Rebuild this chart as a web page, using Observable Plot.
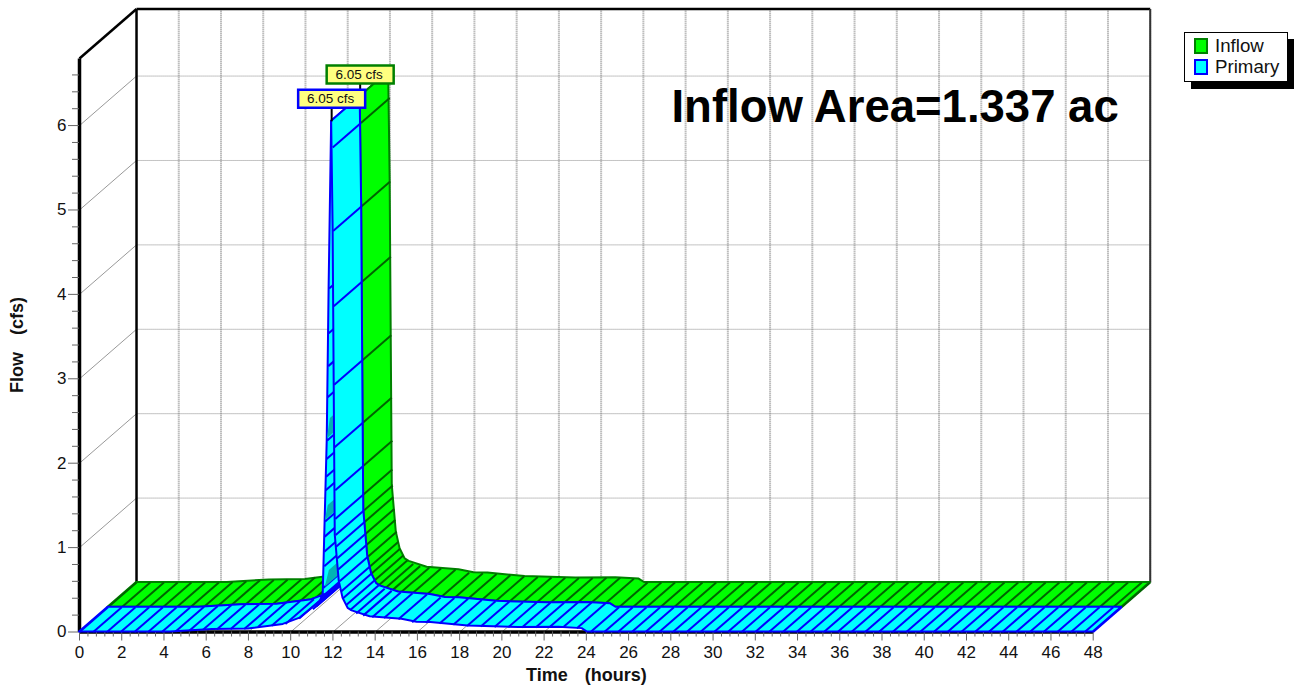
<!DOCTYPE html>
<html>
<head>
<meta charset="utf-8">
<script src="https://cdn.jsdelivr.net/npm/d3@7"></script>
<script src="https://cdn.jsdelivr.net/npm/@observablehq/plot@0.6"></script>
<style>
html,body{margin:0;padding:0;background:#fff;font-family:"Liberation Sans",Arial,sans-serif}
#wrap{position:relative;width:1294px;height:688px;overflow:hidden}
#legend{position:absolute;left:1184px;top:32px;width:102px;height:48px;background:#fff;border:1px solid #000;box-shadow:7px 7px 0 #000;font-size:18.7px;line-height:20px;color:#111}
#legend .row{position:absolute;left:9px;display:flex;align-items:center;gap:7px;height:20px}
#legend .sw{display:inline-block;width:10px;height:12px;border:2px solid}
.axis-title{word-spacing:3.5px}
</style>
</head>
<body>
<div id="wrap">
<div id="chart"></div>
<div id="legend">
<div class="row" style="top:3px"><span class="sw" style="background:#00ff00;border-color:#008000"></span>Inflow</div>
<div class="row" style="top:24px"><span class="sw" style="background:#00ffff;border-color:#0000ff"></span>Primary</div>
</div>
</div>
<script>
// ---- axis ticks (hours, cfs) ----
const xMajor = [0,2,4,6,8,10,12,14,16,18,20,22,24,26,28,30,32,34,36,38,40,42,44,46,48];
const xMinor = [0.4,0.8,1.2,1.6,2.4,2.8,3.2,3.6,4.4,4.8,5.2,5.6,6.4,6.8,7.2,7.6,8.4,8.8,9.2,9.6,10.4,10.8,11.2,11.6,12.4,12.8,13.2,13.6,14.4,14.8,15.2,15.6,16.4,16.8,17.2,17.6,18.4,18.8,19.2,19.6,20.4,20.8,21.2,21.6,22.4,22.8,23.2,23.6,24.4,24.8,25.2,25.6,26.4,26.8,27.2,27.6,28.4,28.8,29.2,29.6,30.4,30.8,31.2,31.6,32.4,32.8,33.2,33.6,34.4,34.8,35.2,35.6,36.4,36.8,37.2,37.6,38.4,38.8,39.2,39.6,40.4,40.8,41.2,41.6,42.4,42.8,43.2,43.6,44.4,44.8,45.2,45.6,46.4,46.8,47.2,47.6];
const yMajor = [0,1,2,3,4,5,6];
const yMinor = [0.2,0.4,0.6,0.8,1.2,1.4,1.6,1.8,2.2,2.4,2.6,2.8,3.2,3.4,3.6,3.8,4.2,4.4,4.6,4.8,5.2,5.4,5.6,5.8,6.2,6.4,6.6];

// ---- hydrograph (Inflow and Primary coincide) ----
const riseT = [0,4.3,6.3,8,9.65,10.45,11.4,11.54,11.63,11.73,11.82,11.94];
const riseQ = [0,0,0.03,0.035,0.09,0.165,0.36,0.45,1.31,2.27,4.09,6.05];
const fallT = [11.94,12.01,12.06,12.11,12.3,12.48,12.72,12.91,13.76,15.27,15.98,16.64,18.4,20.8,22.7,23.8,24.05,48];
const fallQ = [6.05,4.78,2.93,1.15,0.6,0.4,0.28,0.25,0.18,0.15,0.115,0.112,0.07,0.053,0.056,0.04,0,0];

// ---- cross lines on each ribbon ----
const hatchRiseT = [0,0.65,1.3,1.95,2.6,3.25,3.9,4.55,5.2,5.85,6.5,7.15,7.8,8.45,9.1,9.75,10.4,11.05,11.2,11.35,11.45,11.54,11.59,11.59,11.61,11.63,11.66,11.68,11.7,11.73,11.75,11.78,11.8,11.82];
const hatchRiseQ = [0,0,0,0,0,0,0,0.005,0.015,0.028,0.03,0.033,0.035,0.06,0.075,0.095,0.16,0.27,0.3,0.35,0.41,0.52,0.78,0.95,1.13,1.31,1.68,1.84,2.05,2.27,2.78,3.15,3.54,4.07];
const hatchFallT = [11.99,12.01,12.04,12.06,12.08,12.11,12.11,12.13,12.15,12.2,12.25,12.32,12.39,12.48,12.63,12.82,13.1,13.43,13.86,14.42,15.1,15.75,16.4,17.05,17.7,18.35,19,19.65,20.3,20.95,21.6,22.25,22.9,23.55,24.2,24.85,25.5,26.15,26.8,27.45,28.1,28.75,29.4,30.05,30.7,31.35,32,32.65,33.3,33.95,34.6,35.25,35.9,36.55,37.2,37.85,38.5,39.15,39.8,40.45,41.1,41.75,42.4,43.05,43.7,44.35,45,45.65,46.3,46.95,47.6,48];
const hatchFallQ = [5.74,4.75,3.86,2.93,2.19,1.68,1.34,1.15,1.01,0.87,0.74,0.6,0.48,0.4,0.32,0.26,0.22,0.194,0.176,0.165,0.15,0.115,0.11,0.1,0.085,0.07,0.065,0.06,0.055,0.053,0.054,0.056,0.056,0.045,0,0,0,0,0,0,0,0,0,0,0,0,0,0,0,0,0,0,0,0,0,0,0,0,0,0,0,0,0,0,0,0,0,0,0,0,0,0];

// ---- small underside patches on the rising limb ----
const patchId = [1,1,2,2,3,3];
const patchT = [11.74,11.88,11.64,11.78,11.64,11.83];
const patchQ = [2.29,2.53,1.32,1.5,0.53,0.73];
const patchDepth = [0.25,0.25,0.25,0.25,0.4,0.4];

// ---- text ----
const peakFlow = 6.05, peakTime = 11.94;
const peakLabel = "6.05 cfs";
const chartTitle = "Inflow Area=1.337 ac";

// ---- oblique projection: one unit of depth in hours and cfs ----
const DX = 2.70, DY = 0.5865;
const tMax = 48, frontTop = 6.795;

const zip = (T,Q) => T.map((t,i)=>({t,q:Q[i]}));
const rise = zip(riseT,riseQ), fall = zip(fallT,fallQ);
const hRise = zip(hatchRiseT,hatchRiseQ), hFall = zip(hatchFallT,hatchFallQ);
const patches = patchT.map((t,i)=>({t,q:patchQ[i],id:patchId[i],d:patchDepth[i]}));

function ribbon(rows,a,b,fill,stroke){
  return Plot.area(rows,{
    x1:d=>d.t+a*DX, y1:d=>d.q+a*DY, x2:d=>d.t+b*DX, y2:d=>d.q+b*DY,
    fill, stroke, strokeWidth:2, strokeLinejoin:"round"
  });
}
function hatch(rows,a,b,stroke){
  return Plot.link(rows,{
    x1:d=>d.t+a*DX, y1:d=>d.q+a*DY, x2:d=>d.t+b*DX, y2:d=>d.q+b*DY,
    stroke, strokeWidth:2
  });
}
const wallX = xMajor.slice(1);
const wallY = yMajor.slice(1);
const box = {draw(c){c.rect(-33.5,-9,67,18);}};

const chart = Plot.plot({
  width:1294, height:688,
  marginLeft:79, marginRight:201.3, marginTop:7.5, marginBottom:56.5,
  style:{fontFamily:'"Liberation Sans",Arial,sans-serif',background:"#fff",color:"#111"},
  x:{domain:[0,tMax]},
  y:{domain:[0,7.393]},
  marks:[
    // floor and side diagonals
    Plot.link(xMajor,{x1:d=>d,y1:0,x2:d=>d+DX,y2:DY,stroke:"#999",strokeWidth:1}),
    Plot.link(wallY,{x1:0,y1:d=>d,x2:DX,y2:d=>d+DY,stroke:"#999",strokeWidth:1}),
    // back wall grid
    Plot.link(wallX,{x1:d=>d+DX,y1:DY,x2:d=>d+DX,y2:frontTop+DY,stroke:"#bdbdbd",strokeWidth:2,strokeDasharray:"1.5 0.5"}),
    Plot.link(wallY,{x1:DX,y1:d=>d+DY,x2:tMax+DX,y2:d=>d+DY,stroke:"#888",strokeWidth:1,strokeDasharray:"1 1"}),
    // frame
    Plot.link([0],{x1:DX,y1:DY,x2:DX,y2:frontTop+DY,stroke:"#000",strokeWidth:2.5}),
    Plot.link([0],{x1:DX,y1:frontTop+DY,x2:tMax+DX,y2:frontTop+DY,stroke:"#000",strokeWidth:2.5}),
    Plot.link([0],{x1:tMax+DX,y1:DY,x2:tMax+DX,y2:frontTop+DY,stroke:"#333",strokeWidth:2}),
    Plot.link([0],{x1:0,y1:frontTop,x2:DX,y2:frontTop+DY,stroke:"#000",strokeWidth:2.5}),
    Plot.link([0],{x1:0,y1:0,x2:0,y2:frontTop,stroke:"#000",strokeWidth:3.5}),
    Plot.link([0],{x1:0,y1:0,x2:tMax,y2:0,stroke:"#000",strokeWidth:3.5}),
    // axes
    Plot.axisX({ticks:xMinor,tickFormat:()=>"",tickSize:5,stroke:"#666",label:null}),
    Plot.axisY({ticks:yMinor,tickFormat:()=>"",tickSize:7,stroke:"#666",label:null}),
    Plot.axisX({ticks:xMajor,tickSize:9,tickPadding:5,fontSize:17,stroke:"#666",label:null,tickFormat:d=>String(d)}),
    Plot.axisY({ticks:yMajor,tickSize:11,tickPadding:2,fontSize:17,stroke:"#666",label:null,tickFormat:d=>String(d)}),
    // Inflow ribbon (behind)
    ribbon(rise,0.5,1,"#00ff00","#008000"),
    hatch(hRise,0.5,1,"#006400"),
    ribbon(fall,0.5,1,"#00ff00","#008000"),
    hatch(hFall,0.5,1,"#006400"),
    // Primary ribbon (front)
    ribbon(rise,0,0.5,"#00ffff","#0000ff"),
    hatch(hRise,0,0.5,"#0000ff"),
    Plot.area(patches,{x1:d=>d.t,y1:d=>d.q,x2:d=>d.t+d.d*DX,y2:d=>d.q+d.d*DY,z:"id",fill:"#00b4b4"}),
    ribbon(fall,0,0.5,"#00ffff","#0000ff"),
    hatch(hFall,0,0.5,"#0000ff"),
    // peak labels
    Plot.link([peakTime],{x1:d=>d+0.5*DX,y1:peakFlow+0.5*DY,x2:d=>d+0.5*DX,y2:peakFlow+0.5*DY+0.25,stroke:"#000",strokeWidth:2}),
    Plot.link([peakTime],{x1:d=>d,y1:peakFlow,x2:d=>d,y2:peakFlow+0.25,stroke:"#000",strokeWidth:2}),
    Plot.dot([peakTime],{x:d=>d+0.5*DX,y:peakFlow+0.5*DY,symbol:box,r:5,dy:-22,fill:"#ffff80",stroke:"#008000",strokeWidth:2.5}),
    Plot.text([peakLabel],{x:peakTime+0.5*DX,y:peakFlow+0.5*DY,dy:-22,dx:-1,fontSize:13.5,fill:"#111"}),
    Plot.dot([peakTime],{x:d=>d,y:peakFlow,symbol:box,r:5,dy:-22.5,fill:"#ffff80",stroke:"#0000ff",strokeWidth:2.5}),
    Plot.text([peakLabel],{x:peakTime,y:peakFlow,dy:-22.5,dx:-1,fontSize:13.5,fill:"#111"}),
    // titles
    Plot.text([chartTitle],{frameAnchor:"top-right",textAnchor:"end",lineAnchor:"middle",dx:25.5,dy:99.5,fontSize:45.5,fontWeight:"bold",fill:"#000"}),
    Plot.text(["Time  (hours)"],{className:"axis-title",frameAnchor:"bottom",lineAnchor:"middle",dy:43.5,fontSize:18,fontWeight:"bold",fill:"#111"}),
    Plot.text(["Flow  (cfs)"],{className:"axis-title",frameAnchor:"left",textAnchor:"middle",rotate:-90,dx:-62,dy:25,fontSize:18,fontWeight:"bold",fill:"#111"})
  ]
});
document.getElementById("chart").appendChild(chart);
</script>
</body>
</html>
